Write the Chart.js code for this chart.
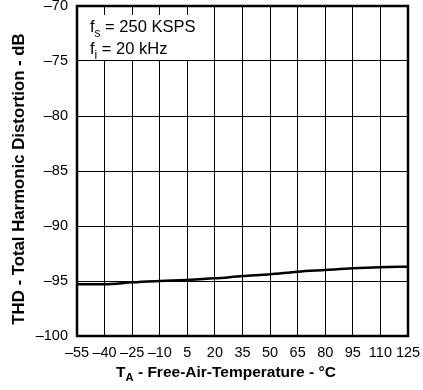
<!DOCTYPE html>
<html>
<head>
<meta charset="utf-8">
<script src="https://cdn.jsdelivr.net/npm/chart.js@4"></script>
<style>
  html, body { margin: 0; padding: 0; background: #fff; }
  #wrap { width: 423px; height: 390px; }
</style>
</head>
<body>
<div id="wrap"><canvas id="thd"></canvas></div>
<script>
// temperature (°C) and THD (dB)
const tempC = [-55, -40, -25, -10, 5, 20, 35, 50, 65, 80, 95, 110, 125];
const thdDb = [-95.3, -95.3, -95.12, -95.0, -94.9, -94.76, -94.55, -94.39, -94.15, -94.0, -93.85, -93.75, -93.7];
const xTicks = [-55, -40, -25, -10, 5, 20, 35, 50, 65, 80, 95, 110, 125];
const yTicks = [-100, -95, -90, -85, -80, -75, -70];

const FONT = '"Liberation Sans", Arial, Helvetica, sans-serif';
const dash = v => (v < 0 ? '\u2013' + Math.abs(v) : String(v));

// draws text with a subscript part: [[text, isSub], ...]
const drawParts = (ctx, parts, x, y, size, bold) => {
  let cx = x;
  parts.forEach(([t, sub]) => {
    const s = sub ? size * 0.72 : size;
    ctx.font = `${bold ? 'bold ' : ''}${s}px ${FONT}`;
    ctx.fillText(t, cx, sub ? y + size * 0.28 : y);
    cx += ctx.measureText(t).width;
  });
  return cx - x;
};
const partsWidth = (ctx, parts, size, bold) => {
  let w = 0;
  parts.forEach(([t, sub]) => {
    ctx.font = `${bold ? 'bold ' : ''}${sub ? size * 0.72 : size}px ${FONT}`;
    w += ctx.measureText(t).width;
  });
  return w;
};

const noPad = s => { s.paddingTop = 0; s.paddingBottom = 0; s.paddingLeft = 0; s.paddingRight = 0; };

const decor = {
  id: 'decor',
  beforeDatasetsDraw(chart) {
    const { ctx, chartArea: a } = chart;
    ctx.save();
    // blank area behind the conditions note
    ctx.fillStyle = '#fff';
    ctx.fillRect(a.left + 1, a.top + 9, 122, 45);
    ctx.fillStyle = '#000';
    ctx.textBaseline = 'alphabetic';
    ctx.textAlign = 'left';
    drawParts(ctx, [['f', false], ['s', true], [' = 250 KSPS', false]], a.left + 13, a.top + 26, 16.5, false);
    drawParts(ctx, [['f', false], ['i', true], [' = 20 kHz', false]], a.left + 13, a.top + 48, 16.5, false);
    ctx.restore();
  },
  afterDraw(chart) {
    const { ctx, chartArea: a } = chart;
    ctx.save();
    ctx.strokeStyle = '#000';
    ctx.lineWidth = 2.5;
    ctx.strokeRect(a.left, a.top, a.right - a.left, a.bottom - a.top);

    ctx.fillStyle = '#000';
    ctx.textBaseline = 'alphabetic';
    ctx.textAlign = 'left';
    const xt = [['T', false], ['A', true], [' - Free-Air-Temperature - \u00b0C', false]];
    const w = partsWidth(ctx, xt, 15.5, true);
    drawParts(ctx, xt, 226 - w / 2, 377, 15.5, true);

    ctx.translate(24, 179);
    ctx.rotate(-Math.PI / 2);
    ctx.textAlign = 'center';
    ctx.font = `bold 16.8px ${FONT}`;
    ctx.fillText('THD - Total Harmonic Distortion - dB', 0, 0);
    ctx.restore();
  }
};

new Chart(document.getElementById('thd'), {
  type: 'line',
  data: {
    datasets: [{
      data: tempC.map((t, i) => ({ x: t, y: thdDb[i] })),
      borderColor: '#000',
      borderWidth: 2.5,
      pointRadius: 0,
      fill: false,
      cubicInterpolationMode: 'monotone'
    }]
  },
  options: {
    responsive: true,
    maintainAspectRatio: false,
    animation: false,
    layout: { padding: { top: 6, right: 15, left: 0, bottom: 0 } },
    plugins: { legend: { display: false }, tooltip: { enabled: false } },
    scales: {
      x: {
        type: 'linear',
        min: -55,
        max: 125,
        afterBuildTicks: s => { s.ticks = xTicks.map(v => ({ value: v })); },
        afterFit: s => { s.height = 54; noPad(s); },
        grid: { color: '#000', lineWidth: 1, drawTicks: false },
        border: { display: false },
        ticks: { color: '#000', padding: 8, maxRotation: 0, autoSkip: false, font: { family: FONT, size: 14.5 }, callback: dash }
      },
      y: {
        min: -100,
        max: -70,
        afterBuildTicks: s => { s.ticks = yTicks.map(v => ({ value: v })); },
        afterFit: s => { s.width = 77; noPad(s); },
        grid: { color: '#000', lineWidth: 1, drawTicks: false },
        border: { display: false },
        ticks: { color: '#000', padding: 9, font: { family: FONT, size: 14.5 }, callback: dash }
      }
    }
  },
  plugins: [decor]
});
</script>
</body>
</html>
